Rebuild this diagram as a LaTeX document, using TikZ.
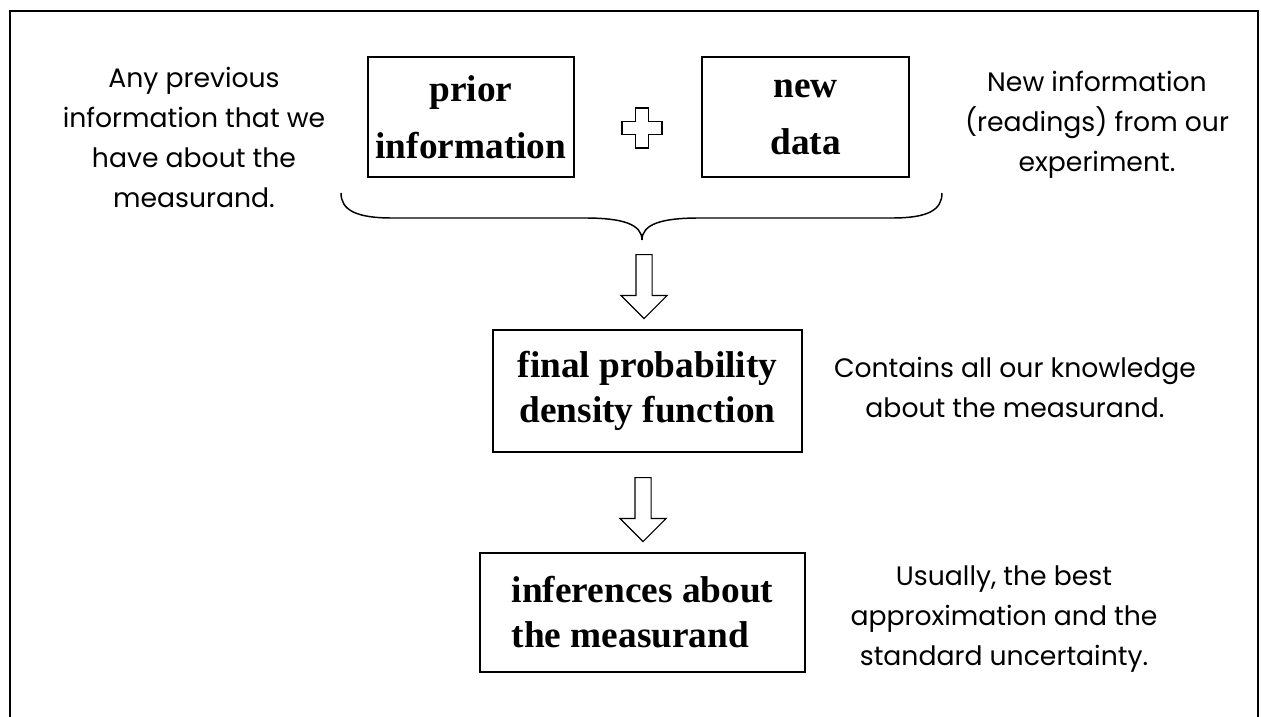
\documentclass[tikz,border=0pt]{standalone}
\usepackage{fontspec}
\setmainfont{Liberation Serif}
\newfontfamily\notefont{Poppins}
\usetikzlibrary{positioning,shapes.arrows}
\tikzset{
  fact/.style={draw,line width=1.1pt,align=center,inner sep=0pt,
    font=\bfseries\fontsize{28}{42.75}\selectfont},
  result/.style={fact,font=\bfseries\fontsize{28}{33.75}\selectfont},
  note/.style={align=center,font=\notefont\fontsize{20}{30}\selectfont},
  downarrow/.style={single arrow,draw,line width=0.9pt,shape border rotate=270,
    minimum height=48pt,inner sep=5.625pt,single arrow head extend=11.25pt}
}
\begin{document}
\begin{tikzpicture}[x=0.75pt,y=-0.75pt]
  \useasboundingbox (0,0) rectangle (1261,717);
  % outer frame, open at the bottom
  \draw[line width=1.2pt] (10,717) -- (10,11) -- (1258,11) -- (1258,717);

  % the two inputs
  \node[fact,minimum width=154.5pt,minimum height=90pt] (prior) at (471,117) {prior\\information};
  \node[fact,minimum width=155pt,minimum height=90pt] (data) at (805.5,117) {new\\data};
  \coordinate (plus) at (642,128);
  \draw[line width=0.9pt] (plus) ++(-6.5,-20) -- ++(13,0) -- ++(0,13.5) -- ++(13.5,0)
    -- ++(0,13) -- ++(-13.5,0) -- ++(0,13.5) -- ++(-13,0) -- ++(0,-13.5)
    -- ++(-13.5,0) -- ++(0,-13) -- ++(13.5,0) -- cycle;

  % brace under both inputs
  \coordinate (bracetip) at (642,240);
  \draw[line width=1.1pt] (341,193) .. controls (341,210) and (356,218) .. (392,218)
    -- (585,218) .. controls (622,218) and (642,224) .. (bracetip)
    .. controls (642,224) and (662,218) .. (699,218) -- (892,218)
    .. controls (928,218) and (942,210) .. (942,193);

  % results
  \node[downarrow,anchor=tail] (arrowA) at (644,254) {};
  \node[result,minimum width=231.75pt,minimum height=91.5pt] (pdf) at (647.5,391) {final probability\\density function};
  \node[downarrow,anchor=tail] (arrowB) at (643,477) {};
  \node[result,align=left,minimum width=243.75pt,minimum height=89.25pt] (inference) at (642.5,612.5) {inferences about\\the measurand};

  % side notes
  \node[note] (priornote) at (194,137) {Any previous\\information that we\\have about the\\measurand.};
  \node[note] (datanote) at (1097,125) {New information\\(readings) from our\\experiment.};
  \node[note] (pdfnote) at (1015,387) {Contains all our knowledge\\about the measurand.};
  \node[note] (infnote) at (1004,619) {Usually, the best\\approximation and the\\standard uncertainty.};
\end{tikzpicture}
\end{document}
